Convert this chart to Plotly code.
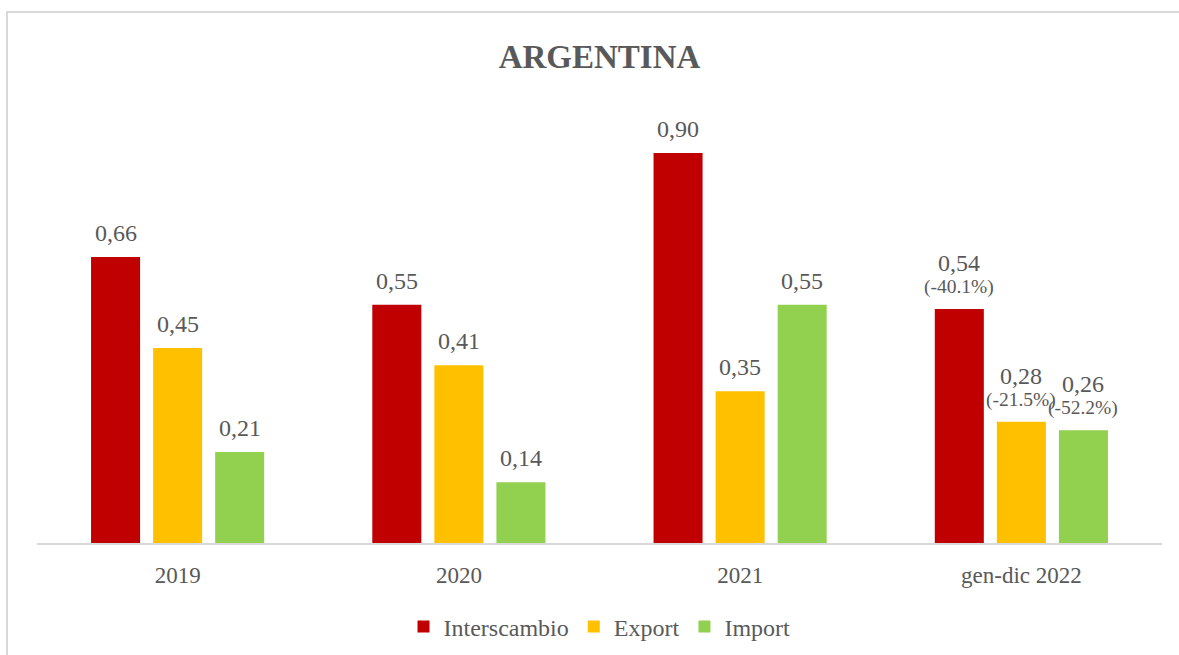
import plotly.graph_objects as go

categories = ["2019", "2020", "2021", "gen-dic 2022"]
interscambio = [0.66, 0.55, 0.90, 0.54]
export = [0.45, 0.41, 0.35, 0.28]
imports = [0.21, 0.14, 0.55, 0.26]
variazione_2022 = ["(-40.1%)", "(-21.5%)", "(-52.2%)"]

series = [
    ("Interscambio", interscambio, "#C00000"),
    ("Export", export, "#FFC000"),
    ("Import", imports, "#92D050"),
]

W, H = 1179, 655
ML, MR, MT, MB = 37, 17, 100, 112
BARGAP = 0.338
BARGROUPGAP = 0.21
FONT = "Liberation Serif"
TXT = "#595959"

plot_w = W - ML - MR
slot = plot_w / len(categories) * (1 - BARGAP) / len(series)

fig = go.Figure()
for name, vals, col in series:
    fig.add_trace(go.Bar(x=categories, y=vals, name=name, marker=dict(color=col, line=dict(width=0))))

def fmt(v):
    return f"{v:.2f}".replace(".", ",")

annotations = []
for si, (name, vals, col) in enumerate(series):
    xs = (si - 1) * slot
    for ci, (c, v) in enumerate(zip(categories, vals)):
        last = ci == len(categories) - 1
        annotations.append(dict(
            x=ci, y=v, xref="x", yref="y", text=fmt(v), showarrow=False,
            xshift=xs, yshift=46 if last else 24, yanchor="middle",
            font=dict(family=FONT, size=24, color=TXT)))
        if last:
            annotations.append(dict(
                x=ci, y=v, xref="x", yref="y", text=variazione_2022[si], showarrow=False,
                xshift=xs, yshift=22, yanchor="middle",
                font=dict(family=FONT, size=19.5, color=TXT)))

plot_h = H - MT - MB
scale = (H - MB - 153) / 0.90  # px per unit from reference
ymax = plot_h / scale

fig.update_layout(
    width=W, height=H,
    margin=dict(l=ML, r=MR, t=MT, b=MB, autoexpand=False),
    paper_bgcolor="white", plot_bgcolor="white",
    barmode="group", bargap=BARGAP, bargroupgap=BARGROUPGAP,
    title=dict(text="<b>ARGENTINA</b>", x=0.5, xref="paper", y=1 - 56 / H, yanchor="middle",
               font=dict(family=FONT, size=33, color=TXT)),
    xaxis=dict(type="category", range=[-0.5, len(categories) - 0.5], autorange=False,
               showline=True, linecolor="#D9D9D9", linewidth=2, ticks="",
               tickfont=dict(family=FONT, size=23, color=TXT), ticklabelstandoff=10,
               showgrid=False, zeroline=False, automargin=False),
    yaxis=dict(range=[0, ymax], autorange=False, visible=False, showgrid=False, zeroline=False, automargin=False),
    legend=dict(orientation="h", x=0.5, xanchor="center", y=(H - MB - 627) / plot_h, yanchor="middle",
                font=dict(family=FONT, size=24, color=TXT), itemwidth=30, traceorder="normal"),
    showlegend=True,
    annotations=annotations,
    shapes=[dict(type="rect", xref="paper", yref="paper",
                 x0=(7 - ML) / plot_w, x1=1.2, y0=-0.6, y1=(H - MB - 12) / plot_h,
                 line=dict(color="#D9D9D9", width=2), fillcolor="rgba(0,0,0,0)", layer="below")],
)

fig.write_html("out.html", config={"displayModeBar": False},
               post_script="document.body.style.margin='0px';document.body.style.overflow='hidden';")
